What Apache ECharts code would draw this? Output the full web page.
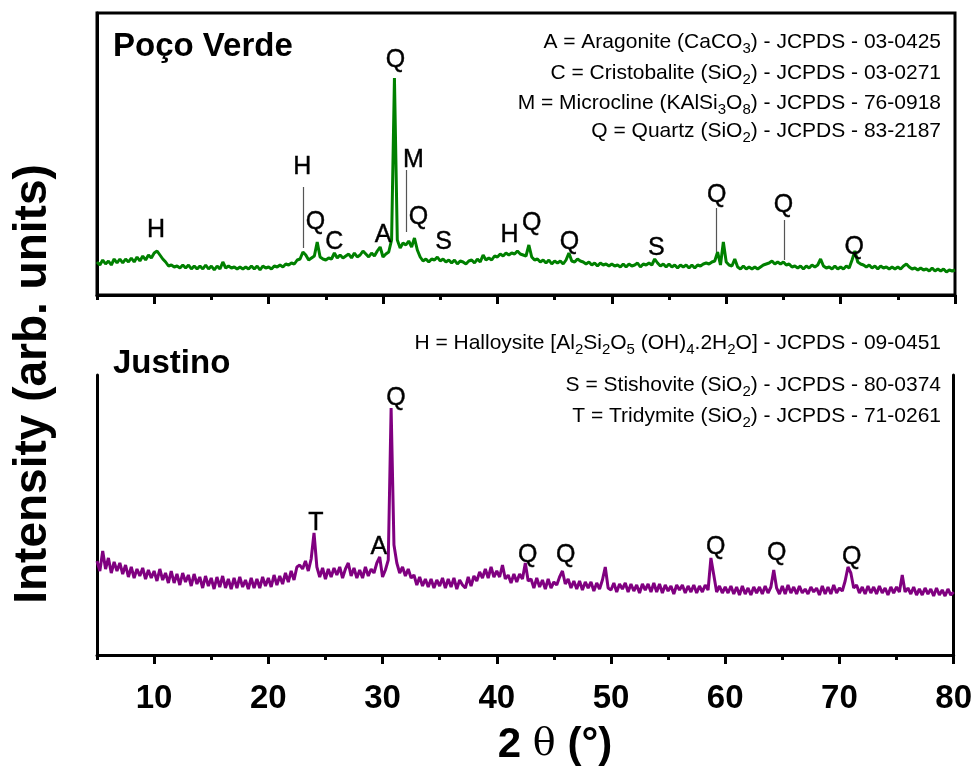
<!DOCTYPE html>
<html>
<head>
<meta charset="utf-8">
<script src="https://cdn.jsdelivr.net/npm/echarts@6/dist/echarts.min.js"></script>
<style>
  html, body { margin: 0; padding: 0; background: #fff; }
  #chart { width: 975px; height: 770px; }
</style>
</head>
<body>
<div id="chart"></div>
<script>
// 2θ sampling of both scans (degrees)
const thetaStart = 5;
const thetaStep = 0.25;

// Poço Verde intensity (arb. units), one row per degree
const pocoVerde = [
  33, 30, 35, 31,  34, 30, 36, 32,  36, 32, 36, 33,  37, 33, 38, 34,  39, 35, 40, 37,
  42, 44, 40, 36,  33, 29, 30, 28,  29, 27, 30, 27,  30, 26, 29, 26,  29, 26, 30, 26,
  29, 25, 29, 26,  33, 27, 29, 27,  28, 26, 28, 26,  28, 26, 29, 26,  29, 25, 29, 27,
  28, 26, 29, 28,  30, 28, 31, 30,  32, 31, 35, 36,  43, 40, 35, 37,  39, 53, 38, 36,
  35, 37, 36, 42,  37, 40, 37, 39,  41, 37, 42, 38,  40, 44, 41, 38,  42, 39, 44, 48,
  38, 41, 43, 55,  217, 55, 47, 52,  50, 54, 48, 57,  45, 38, 34, 36,  33, 36, 35, 38,
  34, 36, 33, 35,  32, 35, 31, 34,  33, 31, 34, 35,  32, 36, 33, 40,  35, 37, 35, 39,
  38, 41, 39, 42,  40, 42, 41, 44,  41, 40, 39, 50,  38, 35, 36, 33,  35, 32, 35, 31,
  34, 32, 34, 31,  35, 42, 34, 33,  36, 34, 33, 31,  33, 30, 32, 29,  32, 30, 31, 29,
  31, 29, 30, 28,  31, 28, 31, 29,  30, 32, 28, 31,  30, 32, 30, 36,  32, 29, 31, 28,
  31, 28, 30, 27,  30, 28, 30, 27,  30, 27, 30, 29,  31, 32, 31, 33,  34, 43, 30, 53,
  33, 30, 29, 36,  28, 26, 29, 26,  28, 26, 28, 26,  28, 30, 31, 32,  34, 31, 33, 31,
  33, 30, 31, 28,  29, 27, 29, 26,  29, 27, 30, 28,  30, 36, 29, 27,  28, 26, 29, 26,
  28, 26, 29, 27,  35, 44, 33, 31,  30, 28, 30, 27,  29, 26, 29, 27,  28, 26, 28, 26,
  28, 26, 29, 31,  28, 26, 27, 25,  27, 25, 26, 24,  27, 24, 26, 24,  26, 23, 25, 24,
  25
];

// Justino intensity (arb. units), one row per degree
const justino = [
  94, 84, 104, 86,  97, 82, 93, 84,  92, 81, 90, 78,  88, 77, 86, 79,  87, 76, 85, 77,
  84, 74, 86, 75,  82, 72, 84, 72,  81, 70, 82, 73,  80, 69, 81, 71,  78, 67, 79, 69,
  77, 66, 78, 68,  79, 67, 76, 66,  77, 67, 78, 68,  75, 66, 77, 67,  76, 67, 78, 69,
  77, 68, 80, 70,  79, 71, 82, 73,  84, 75, 88, 90,  86, 94, 84, 96,  122, 88, 78, 87,
  76, 86, 78, 87,  80, 88, 77, 86,  92, 79, 87, 77,  85, 77, 88, 79,  86, 82, 92, 98,
  78, 85, 95, 247,  110, 92, 82, 88,  79, 86, 77, 80,  70, 78, 69, 76,  68, 76, 67, 75,
  69, 77, 67, 76,  68, 77, 66, 75,  70, 67, 78, 69,  79, 74, 83, 77,  86, 77, 88, 78,
  84, 78, 90, 76,  80, 72, 81, 73,  81, 76, 92, 74,  76, 67, 77, 68,  75, 66, 76, 67,
  73, 70, 78, 84,  71, 76, 67, 74,  66, 74, 65, 73,  67, 73, 64, 72,  66, 75, 88, 67,
  65, 72, 63, 71,  66, 72, 63, 71,  64, 70, 62, 71,  65, 71, 63, 72,  63, 71, 62, 70,
  64, 69, 61, 70,  65, 70, 62, 69,  63, 70, 62, 69,  63, 70, 65, 97,  80, 63, 69, 62,
  68, 62, 69, 61,  68, 60, 69, 61,  67, 60, 68, 62,  68, 61, 69, 62,  68, 85, 67, 61,
  69, 61, 70, 62,  68, 61, 69, 62,  66, 61, 68, 63,  67, 60, 69, 61,  68, 61, 70, 62,
  67, 64, 74, 88,  82, 67, 70, 62,  68, 61, 69, 62,  68, 61, 69, 62,  67, 60, 68, 62,
  68, 63, 80, 63,  67, 61, 68, 60,  66, 60, 67, 61,  66, 59, 67, 60,  65, 59, 66, 60,
  63
];

// phase letters: [2θ, height, letter]
const pocoVerdePeaks = [
  [10.16, 65, 'H'], [22.94, 128, 'H'], [24.1, 73, 'Q'], [25.74, 53, 'C'],
  [30.0, 60, 'A'], [31.08, 235, 'Q'], [32.65, 135, 'M'], [33.1, 78, 'Q'],
  [35.3, 53, 'S'], [41.05, 60, 'H'], [43.0, 72, 'Q'], [46.3, 53, 'Q'],
  [53.9, 47, 'S'], [59.17, 100, 'Q'], [65.0, 90, 'Q'], [71.2, 48, 'Q']
];
const justinoPeaks = [
  [24.17, 132, 'T'], [29.68, 108, 'A'], [31.17, 257, 'Q'], [42.72, 100, 'Q'],
  [46.04, 100, 'Q'], [59.17, 108, 'Q'], [64.5, 102, 'Q'], [71.07, 98, 'Q']
];
// leader lines: [2θ, from, to]
const pocoVerdeLeaders = [
  [23.03, 47, 108], [32.05, 63, 125], [59.17, 43, 87], [65.1, 35, 75]
];

const majorTicks = [10, 20, 30, 40, 50, 60, 70, 80];

const pocoVerdeLegend = [
  '{n|A = Aragonite (CaCO}{s|3}{n|) - JCPDS - 03-0425}',
  '{n|C = Cristobalite (SiO}{s|2}{n|) - JCPDS - 03-0271}',
  '{n|M = Microcline (KAlSi}{s|3}{n|O}{s|8}{n|) - JCPDS - 76-0918}',
  '{n|Q = Quartz (SiO}{s|2}{n|) - JCPDS - 83-2187}'
];
const justinoLegend = [
  '{n|H = Halloysite [Al}{s|2}{n|Si}{s|2}{n|O}{s|5}{n| (OH)}{s|4}{n|.2H}{s|2}{n|O] - JCPDS - 09-0451}',
  '{n|S = Stishovite (SiO}{s|2}{n|) - JCPDS - 80-0374}',
  '{n|T = Tridymite (SiO}{s|2}{n|) - JCPDS - 71-0261}'
];

const sans = "'Liberation Sans', Arial, sans-serif";

function toPairs(arr) {
  return arr.map((v, i) => [thetaStart + i * thetaStep, v]);
}

function minorAxis(grid) {
  return {
    type: 'value', gridIndex: grid, position: 'bottom', min: 5, max: 80, interval: 5,
    axisLine: { show: true, onZero: false, lineStyle: { color: '#000', width: 3 } },
    axisTick: { show: true, length: 5, lineStyle: { color: '#000', width: 3 } },
    axisLabel: { show: false },
    splitLine: { show: false }
  };
}

function majorAxis(grid, labels) {
  return {
    type: 'value', gridIndex: grid, position: 'bottom', min: 5, max: 80,
    axisLine: { show: false, onZero: false },
    axisTick: { show: true, customValues: majorTicks, length: 9, lineStyle: { color: '#000', width: 3 } },
    axisLabel: {
      show: labels, customValues: majorTicks, margin: 27, color: '#000',
      fontSize: 33, fontWeight: 'bold', fontFamily: sans
    },
    splitLine: { show: false }
  };
}

function sideAxis(grid, pos, max) {
  return {
    type: 'value', gridIndex: grid, position: pos, min: 0, max: max,
    axisLine: { show: true, onZero: false, lineStyle: { color: '#000', width: 3 } },
    axisTick: { show: false }, axisLabel: { show: false }, splitLine: { show: false }
  };
}

function peakLabels(xi, yi, peaks, leaders) {
  const s = {
    type: 'scatter', xAxisIndex: xi, yAxisIndex: yi, data: peaks,
    symbolSize: 1, itemStyle: { color: 'rgba(255,255,255,0)' }, silent: true, clip: false,
    label: {
      show: true, position: 'inside', formatter: p => p.value[2], opacity: 1,
      color: '#000', fontSize: 25, fontFamily: sans,
      textBorderColor: '#000', textBorderWidth: 0.4
    },
    emphasis: { disabled: true },
    z: 5
  };
  if (leaders) {
    s.markLine = {
      silent: true, symbol: 'none', animation: false,
      label: { show: false },
      lineStyle: { color: '#555', width: 1.2, type: 'solid' },
      data: leaders.map(l => [{ coord: [l[0], l[1]] }, { coord: [l[0], l[2]] }])
    };
  }
  return s;
}

const legendRich = {
  n: { fontSize: 21, fontFamily: sans, fill: '#000' },
  s: { fontSize: 15, fontFamily: sans, fill: '#000', padding: [13, 0, 0, 0] }
};

const graphics = [];
const topLegendY = [42, 73, 103, 131];
pocoVerdeLegend.forEach((t, i) => {
  graphics.push({ type: 'text', x: 941, y: topLegendY[i], z: 10,
    style: { text: t, rich: legendRich, align: 'right', verticalAlign: 'middle', fill: '#000' } });
});
const botLegendY = [343, 385, 416];
justinoLegend.forEach((t, i) => {
  graphics.push({ type: 'text', x: 941, y: botLegendY[i], z: 10,
    style: { text: t, rich: legendRich, align: 'right', verticalAlign: 'middle', fill: '#000' } });
});
graphics.push(
  { type: 'text', x: 113, y: 47, style: { text: 'Poço Verde', font: 'bold 33px ' + sans, fill: '#000', verticalAlign: 'middle' } },
  { type: 'text', x: 113, y: 364, style: { text: 'Justino', font: 'bold 33px ' + sans, fill: '#000', verticalAlign: 'middle' } },
  { type: 'text', x: 33, y: 384, rotation: Math.PI / 2,
    style: { text: 'Intensity (arb. units)', font: 'bold 46px ' + sans, fill: '#000', align: 'center', verticalAlign: 'middle' } },
  { type: 'text', x: 555, y: 745,
    style: {
      text: '{b|2 }{t|θ}{b| (°)}', align: 'center', verticalAlign: 'middle', fill: '#000',
      rich: {
        b: { fontSize: 42, fontWeight: 'bold', fontFamily: sans, fill: '#000' },
        t: { fontSize: 38, fontFamily: "'DejaVu Serif', 'Liberation Serif', serif", fill: '#000' }
      }
    } }
);

const chart = echarts.init(document.getElementById('chart'));
chart.setOption({
  animation: false,
  backgroundColor: '#fff',
  grid: [
    { left: 97, right: 20, top: 13, height: 282, show: true, borderColor: '#000', borderWidth: 3, backgroundColor: 'transparent' },
    { left: 97, right: 20, top: 375, height: 280 }
  ],
  xAxis: [
    minorAxis(0),
    majorAxis(0, false),
    minorAxis(1),
    majorAxis(1, true)
  ],
  yAxis: [
    sideAxis(0, 'left', 282),
    sideAxis(1, 'left', 280),
    sideAxis(1, 'right', 280)
  ],
  series: [
    {
      type: 'line', name: 'Poço Verde', xAxisIndex: 0, yAxisIndex: 0,
      data: toPairs(pocoVerde), showSymbol: false, sampling: false,
      lineStyle: { color: '#008000', width: 3 }, z: 3
    },
    {
      type: 'line', name: 'Justino', xAxisIndex: 2, yAxisIndex: 1,
      data: toPairs(justino), showSymbol: false, sampling: false,
      lineStyle: { color: '#800080', width: 3 }, z: 3
    },
    peakLabels(0, 0, pocoVerdePeaks, pocoVerdeLeaders),
    peakLabels(2, 1, justinoPeaks, null)
  ],
  graphic: graphics
});
</script>
</body>
</html>
